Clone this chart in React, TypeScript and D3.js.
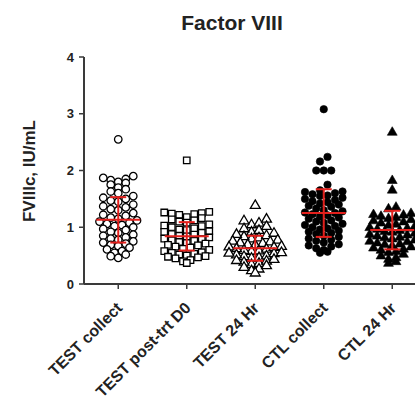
import React from "react";
import * as d3 from "d3";

const title = "Factor VIII";
const yAxisLabel = "FVIIIc, IU/mL";
const categories = ["TEST collect", "TEST post-trt D0", "TEST 24 Hr", "CTL collect", "CTL 24 Hr"];
const markerKinds = ["circle-open", "square-open", "triangle-open", "circle", "triangle"];
const yTicks = [0, 1, 2, 3, 4];

const testCollect = [2.55, 1.9, 1.87, 1.85, 1.83, 1.8, 1.78, 1.75, 1.7, 1.67, 1.63, 1.6, 1.55, 1.52, 1.5, 1.47, 1.45, 1.4, 1.37, 1.35, 1.32, 1.3, 1.25, 1.22, 1.2, 1.17, 1.15, 1.12, 1.1, 1.08, 1.06, 1.04, 1.02, 1.0, 0.97, 0.95, 0.92, 0.9, 0.87, 0.85, 0.82, 0.8, 0.78, 0.75, 0.73, 0.71, 0.69, 0.67, 0.64, 0.61, 0.58, 0.55, 0.52, 0.49, 0.46];
const testPostTrt = [2.18, 1.27, 1.26, 1.25, 1.24, 1.23, 1.22, 1.18, 1.16, 1.14, 1.12, 1.1, 1.08, 1.05, 1.03, 1.02, 1.0, 0.98, 0.96, 0.95, 0.93, 0.92, 0.9, 0.88, 0.87, 0.85, 0.84, 0.82, 0.8, 0.79, 0.77, 0.76, 0.74, 0.72, 0.71, 0.69, 0.68, 0.66, 0.64, 0.62, 0.6, 0.58, 0.56, 0.55, 0.53, 0.52, 0.5, 0.49, 0.48, 0.47, 0.45, 0.42, 0.4, 0.37];
const test24Hr = [1.39, 1.15, 1.12, 1.08, 1.05, 1.02, 0.98, 0.95, 0.92, 0.9, 0.88, 0.86, 0.84, 0.82, 0.8, 0.78, 0.76, 0.75, 0.73, 0.72, 0.7, 0.69, 0.67, 0.66, 0.65, 0.63, 0.62, 0.6, 0.59, 0.58, 0.56, 0.55, 0.54, 0.52, 0.5, 0.49, 0.47, 0.46, 0.44, 0.42, 0.41, 0.39, 0.37, 0.35, 0.33, 0.3, 0.27, 0.24, 0.2];
const ctlCollect = [3.08, 2.24, 2.16, 2.0, 2.0, 2.0, 1.75, 1.65, 1.63, 1.62, 1.6, 1.58, 1.56, 1.55, 1.52, 1.5, 1.48, 1.46, 1.44, 1.42, 1.4, 1.38, 1.36, 1.33, 1.3, 1.28, 1.26, 1.25, 1.23, 1.21, 1.19, 1.17, 1.15, 1.12, 1.1, 1.08, 1.06, 1.04, 1.02, 1.0, 0.98, 0.96, 0.94, 0.92, 0.9, 0.88, 0.85, 0.83, 0.8, 0.78, 0.76, 0.73, 0.7, 0.68, 0.66, 0.63, 0.6, 0.57, 0.55];
const ctl24Hr = [2.68, 1.83, 1.66, 1.36, 1.33, 1.25, 1.23, 1.22, 1.2, 1.18, 1.16, 1.14, 1.12, 1.1, 1.08, 1.06, 1.04, 1.02, 1.0, 0.99, 0.97, 0.95, 0.93, 0.92, 0.9, 0.88, 0.87, 0.85, 0.83, 0.82, 0.8, 0.78, 0.76, 0.75, 0.73, 0.71, 0.7, 0.68, 0.66, 0.64, 0.62, 0.6, 0.58, 0.56, 0.53, 0.5, 0.47, 0.44, 0.4, 0.37];
const groupValues = [testCollect, testPostTrt, test24Hr, ctlCollect, ctl24Hr];
const groupMeans = [1.13, 0.84, 0.63, 1.25, 0.95];
const groupSDs = [0.4, 0.25, 0.22, 0.42, 0.34];

const W = 415;
const H = 402;
const X0 = 84;
const X1 = 426.5;
const RED = "#e3201c";
const AXIS = "#3a3a3a";
const FONT = "'Liberation Sans', Arial, sans-serif";

const x = d3.scalePoint<string>().domain(categories).range([X0, X1]).padding(0.5);
const y = d3.scaleLinear().domain([0, 4]).range([284, 57]);

function swarm(values: number[], binPx: number, step: number) {
  const sorted = [...values].sort((a, b) => b - a);
  const bins: number[][] = [];
  let cur: number[] = [];
  let startY = 0;
  sorted.forEach((v) => {
    const py = y(v);
    if (cur.length === 0) {
      cur = [v];
      startY = py;
    } else if (py - startY <= binPx) {
      cur.push(v);
    } else {
      bins.push(cur);
      cur = [v];
      startY = py;
    }
  });
  if (cur.length) bins.push(cur);
  const out: { dx: number; v: number }[] = [];
  bins.forEach((bin) => {
    const n = bin.length;
    const offsets = d3.range(n).map((i) => (i - (n - 1) / 2) * step);
    const order = [...offsets].sort((a, b) => Math.abs(a) - Math.abs(b) || a - b);
    const asc = [...bin].sort((a, b) => a - b);
    asc.forEach((v, i) => out.push({ dx: order[i], v }));
  });
  return out;
}

function Marker({ kind, cx, cy }: { kind: string; cx: number; cy: number }) {
  const open = kind.endsWith("open");
  const base = kind.replace("-open", "");
  const type = base === "circle" ? d3.symbolCircle : base === "square" ? d3.symbolSquare : d3.symbolTriangle;
  const size = base === "circle" ? 44 : base === "square" ? 42 : 42;
  const path = d3.symbol().type(type).size(size)() as string;
  return (
    <path
      d={path}
      transform={`translate(${cx},${cy + (base === "triangle" ? 0.5 : 0)})`}
      fill={open ? "#fff" : "#000"}
      stroke="#000"
      strokeWidth={open ? 1.3 : 0.6}
    />
  );
}

export default function App() {
  return (
    <svg width={W} height={H} style={{ position: "absolute", left: 0, top: 0, background: "#fff" }} fontFamily={FONT}>
      <rect x={0} y={0} width={W} height={H} fill="#fff" />
      <text x={232} y={30} textAnchor="middle" fontSize={21} fontWeight="bold" fill="#222">
        {title}
      </text>
      <text
        transform={`translate(35,171) rotate(-90)`}
        textAnchor="middle"
        fontSize={17}
        fontWeight="bold"
        fill="#222"
      >
        {yAxisLabel}
      </text>
      {/* y axis */}
      <line x1={X0} x2={X0} y1={y(4)} y2={y(0)} stroke={AXIS} strokeWidth={2} />
      {yTicks.map((t) => (
        <g key={t}>
          <line x1={X0 - 5} x2={X0} y1={y(t)} y2={y(t)} stroke={AXIS} strokeWidth={1.5} />
          <text x={X0 - 10} y={y(t)} dy="0.35em" textAnchor="end" fontSize={13} fontWeight="bold" fill="#222">
            {t}
          </text>
        </g>
      ))}
      {/* x axis */}
      <line x1={X0} x2={X1} y1={y(0)} y2={y(0)} stroke={AXIS} strokeWidth={2} />
      {categories.map((c) => (
        <g key={c}>
          <line x1={x(c)!} x2={x(c)!} y1={y(0)} y2={y(0) + 5} stroke={AXIS} strokeWidth={1.5} />
          <text
            transform={`translate(${(x(c) as number) + 5},${y(0) + 25}) rotate(-45)`}
            textAnchor="end"
            fontSize={16}
            fontWeight="bold"
            fill="#222"
          >
            {c}
          </text>
        </g>
      ))}
      {/* points */}
      {categories.map((c, gi) =>
        swarm(groupValues[gi], 6, 7.5).map((p, i) => (
          <Marker key={`${gi}-${i}`} kind={markerKinds[gi]} cx={(x(c) as number) + p.dx} cy={y(p.v)} />
        ))
      )}
      {/* mean and SD */}
      {categories.map((c, gi) => {
        const cx = x(c) as number;
        const m = groupMeans[gi];
        const s = groupSDs[gi];
        return (
          <g key={`err-${gi}`} stroke={RED} strokeWidth={2}>
            <line x1={cx - 22} x2={cx + 22} y1={y(m)} y2={y(m)} />
            <line x1={cx} x2={cx} y1={y(m - s)} y2={y(m + s)} />
            <line x1={cx - 8} x2={cx + 8} y1={y(m + s)} y2={y(m + s)} />
            <line x1={cx - 8} x2={cx + 8} y1={y(m - s)} y2={y(m - s)} />
          </g>
        );
      })}
    </svg>
  );
}
